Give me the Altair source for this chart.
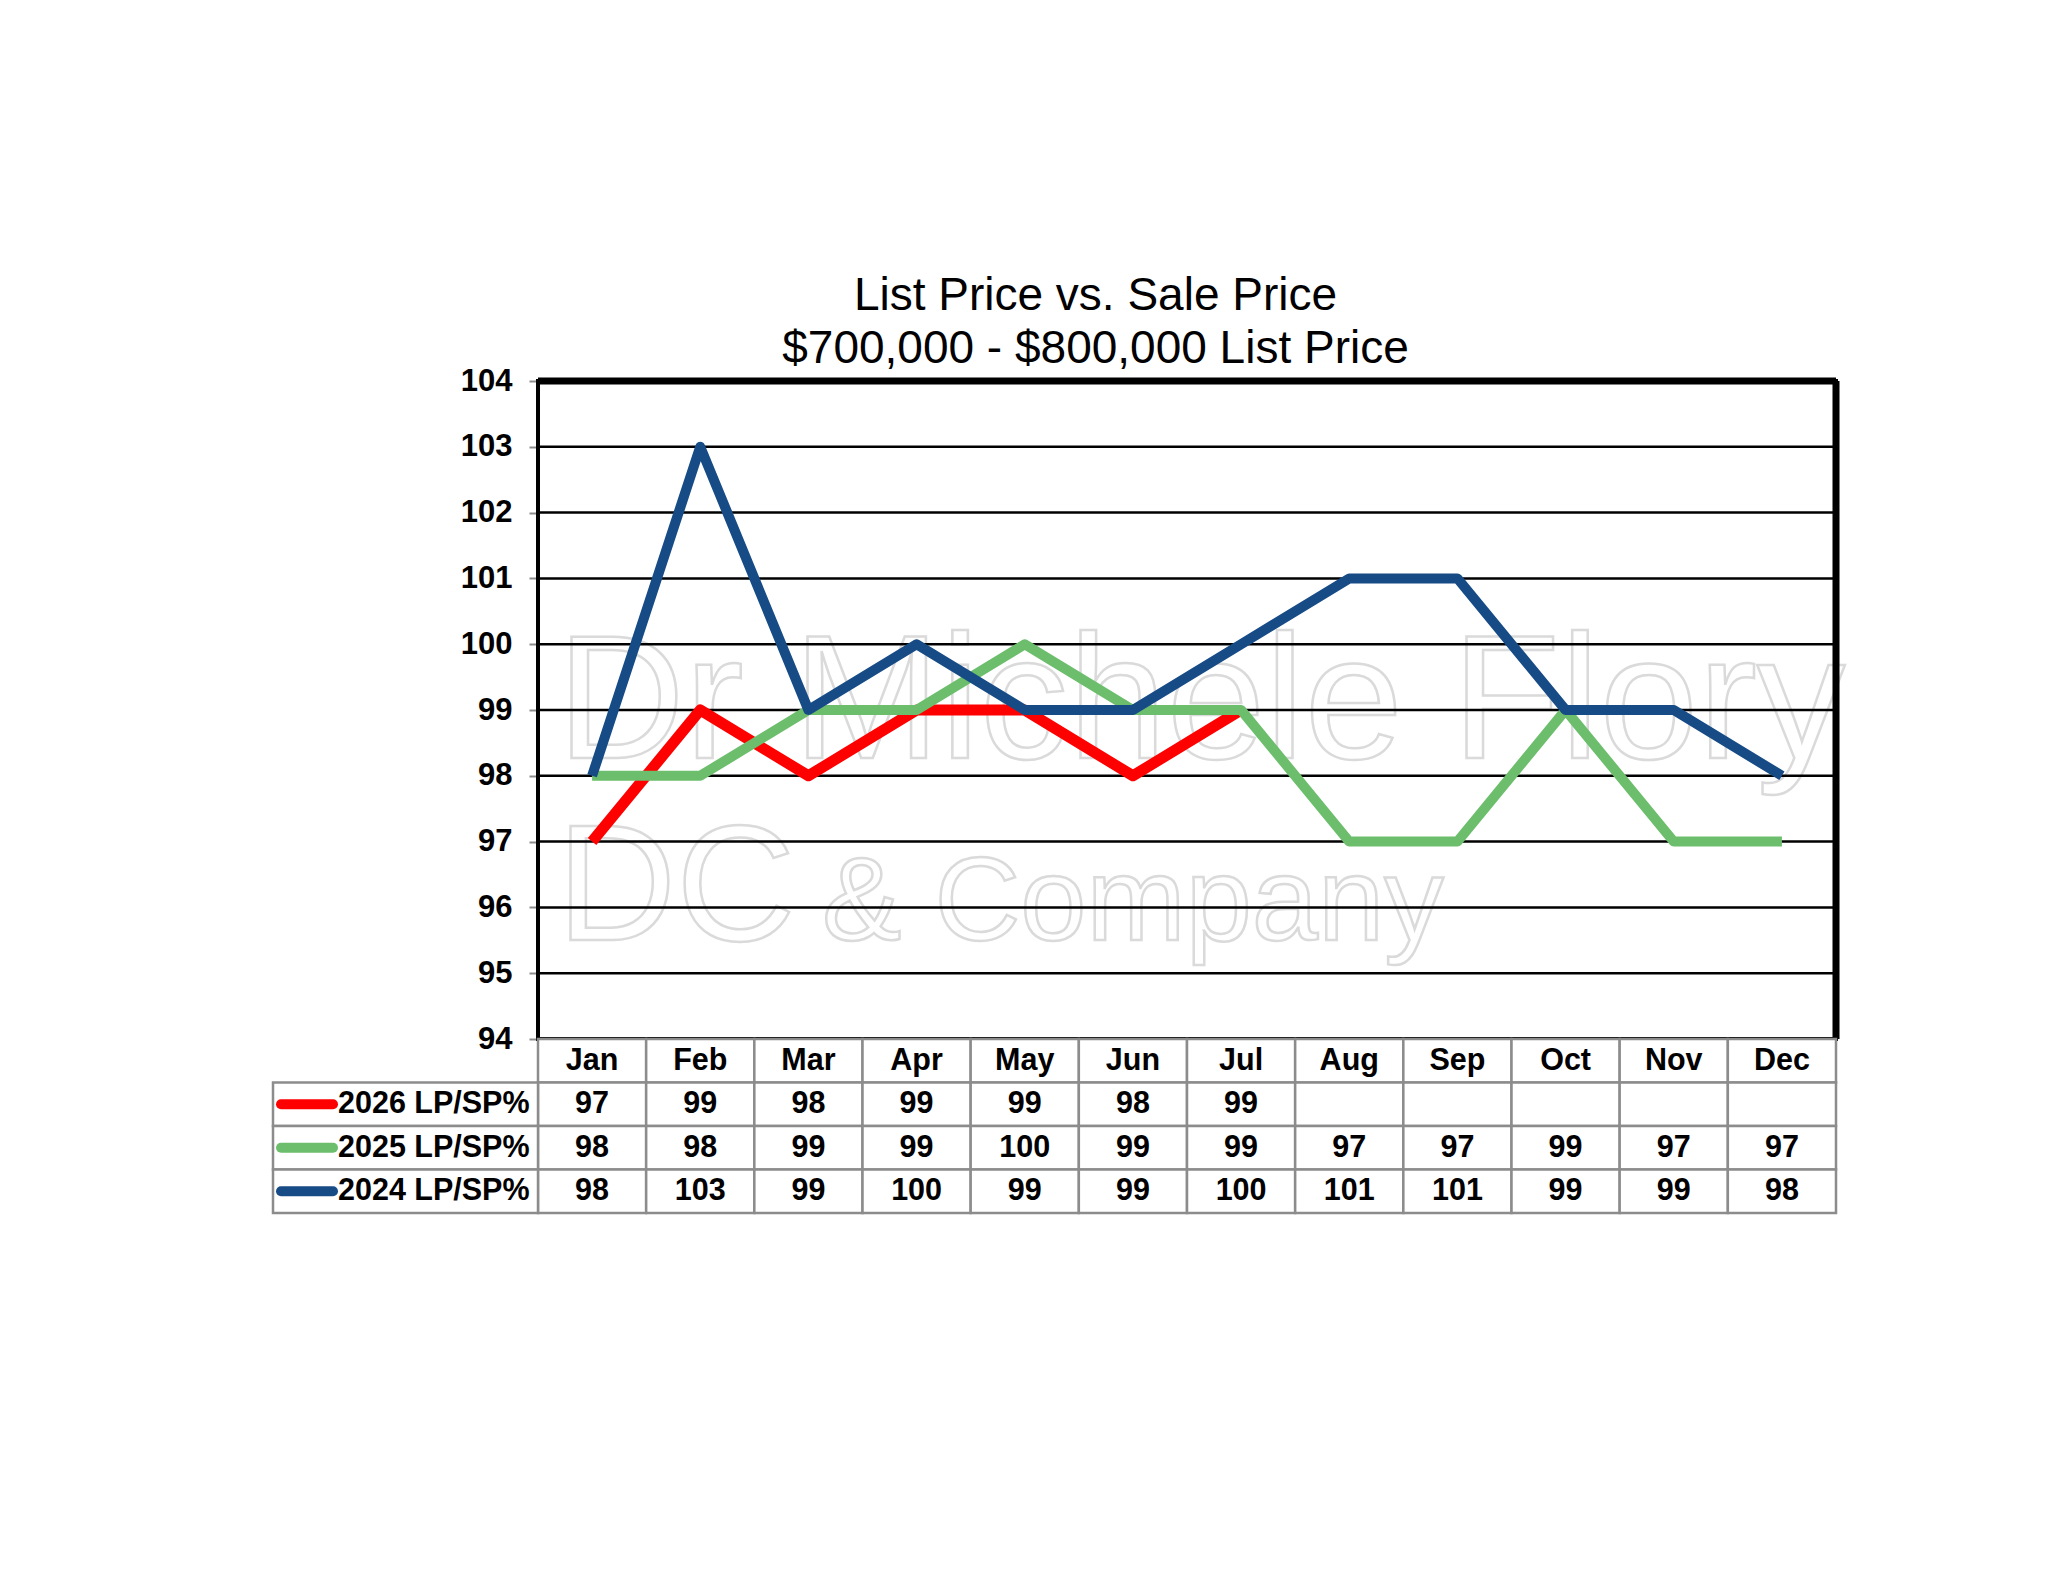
import altair as alt
import pandas as pd

TITLE = ["List Price vs. Sale Price", "$700,000 - $800,000 List Price"]
MONTHS = ["Jan", "Feb", "Mar", "Apr", "May", "Jun", "Jul", "Aug", "Sep", "Oct", "Nov", "Dec"]
SERIES = ["2026 LP/SP%", "2025 LP/SP%", "2024 LP/SP%"]
V2026 = [97, 99, 98, 99, 99, 98, 99]
V2025 = [98, 98, 99, 99, 100, 99, 99, 97, 97, 99, 97, 97]
V2024 = [98, 103, 99, 100, 99, 99, 100, 101, 101, 99, 99, 98]
Y_TICKS = [94, 95, 96, 97, 98, 99, 100, 101, 102, 103, 104]
COLORS = ["#FF0000", "#6CBE6C", "#174B86"]
WATERMARK = ["Dr Michele Flory", "DC", "& Company"]

VALUES = [V2026, V2025, V2024]
FONT = "Liberation Sans"

# layout (pixels)
PLOT_W = 1298
PLOT_H = 658
TABLE_H = 174
LABEL_PX = 265
COLW = PLOT_W / len(MONTHS)
LABEL_U = LABEL_PX / COLW
W = LABEL_PX + PLOT_W
H = PLOT_H + TABLE_H
NROWS = 1 + len(SERIES)

XS = alt.Scale(domain=[-LABEL_U, len(MONTHS)], range=[0, W], nice=False, zero=False)
YS = alt.Scale(domain=[Y_TICKS[0], Y_TICKS[-1]], range=[PLOT_H, 0], nice=False, zero=False)
TS = alt.Scale(domain=[0, NROWS], range=[PLOT_H, H], nice=False, zero=False)

y_axis = alt.Axis(values=Y_TICKS, offset=-(LABEL_PX - 1), labelFont=FONT, labelFontSize=31,
                  labelFontWeight="bold", labelColor="black", labelPadding=17,
                  tickColor="#8c8c8c", tickSize=8, tickWidth=2, domainColor="#8c8c8c",
                  domainWidth=2, grid=False, title=None, format="d", labelOverlap=False)

# watermark (decorative, faint outlined text)
wm_style = dict(font=FONT, fill="white", stroke="#dadada", strokeWidth=2.5, align="left",
                baseline="alphabetic")
wm1 = alt.Chart(pd.DataFrame({"t": [WATERMARK[0]]})).mark_text(fontSize=177, **wm_style).encode(
    text="t:N", x=alt.value(LABEL_PX + 19), y=alt.value(377))
wm2 = alt.Chart(pd.DataFrame({"t": [WATERMARK[1]]})).mark_text(fontSize=165, **wm_style).encode(
    text="t:N", x=alt.value(LABEL_PX + 19), y=alt.value(559))
wm3 = alt.Chart(pd.DataFrame({"t": [WATERMARK[2]]})).mark_text(fontSize=119, **wm_style).encode(
    text="t:N", x=alt.value(LABEL_PX + 284), y=alt.value(559))

# gridlines + y axis
grid_df = pd.DataFrame({"v": Y_TICKS[1:-1], "x0": 0, "x1": len(MONTHS)})
grid = alt.Chart(grid_df).mark_rule(color="black", strokeWidth=2.5).encode(
    x=alt.X("x0:Q", scale=XS, axis=None), x2="x1:Q",
    y=alt.Y("v:Q", scale=YS, axis=y_axis))

# lines
line_layers = []
for name, vals, color, sw in zip(SERIES, VALUES, COLORS, [11, 10, 10]):
    df = pd.DataFrame({"month": MONTHS[:len(vals)], "v": vals})
    df["x"] = [MONTHS.index(m) + 0.5 for m in df["month"]]
    line_layers.append(
        alt.Chart(df).mark_line(color=color, strokeWidth=sw, strokeJoin="round").encode(
            x=alt.X("x:Q", scale=XS, axis=None),
            y=alt.Y("v:Q", scale=YS, axis=None),
            order="x:Q"))

# plot border
border_df = pd.DataFrame({"x0": [0], "x1": [len(MONTHS)], "y0": [Y_TICKS[0]], "y1": [Y_TICKS[-1]]})
border = alt.Chart(border_df).mark_rect(fillOpacity=0, stroke="black", strokeWidth=4).encode(
    x=alt.X("x0:Q", scale=XS, axis=None), x2="x1:Q",
    y=alt.Y("y0:Q", scale=YS, axis=None), y2="y1:Q")
top_rule = alt.Chart(border_df).mark_rule(color="black", strokeWidth=7).encode(
    x=alt.X("x0:Q", scale=XS, axis=None), x2="x1:Q",
    y=alt.Y("y1:Q", scale=YS, axis=None))
right_rule = alt.Chart(border_df).mark_rule(color="black", strokeWidth=7).encode(
    x=alt.X("x1:Q", scale=XS, axis=None),
    y=alt.Y("y0:Q", scale=YS, axis=None), y2="y1:Q")

# table cells
cells = []
for r in range(NROWS):
    for i in range(len(MONTHS)):
        cells.append({"x0": i, "x1": i + 1, "r0": r, "r1": r + 1})
    if r > 0:
        cells.append({"x0": -LABEL_U, "x1": 0, "r0": r, "r1": r + 1})
cell_layer = alt.Chart(pd.DataFrame(cells)).mark_rect(fill="white", stroke="#8c8c8c", strokeWidth=2.5).encode(
    x=alt.X("x0:Q", scale=XS, axis=None), x2="x1:Q",
    y=alt.Y("r0:Q", scale=TS, axis=None), y2="r1:Q")

txt_style = dict(font=FONT, fontSize=30.5, fontWeight="bold", color="black", baseline="middle")

hdr_df = pd.DataFrame({"t": MONTHS, "x": [i + 0.5 for i in range(len(MONTHS))], "r": 0.5})
hdr = alt.Chart(hdr_df).mark_text(align="center", **txt_style).encode(
    x=alt.X("x:Q", scale=XS, axis=None), y=alt.Y("r:Q", scale=TS, axis=None), text="t:N")

num_rows = []
for k, vals in enumerate(VALUES):
    for i, v in enumerate(vals):
        num_rows.append({"t": str(v), "x": i + 0.5, "r": k + 1.5})
nums = alt.Chart(pd.DataFrame(num_rows)).mark_text(align="center", **txt_style).encode(
    x=alt.X("x:Q", scale=XS, axis=None), y=alt.Y("r:Q", scale=TS, axis=None), text="t:N")

leg_df = pd.DataFrame({"t": SERIES, "x": -LABEL_U, "r": [k + 1.5 for k in range(len(SERIES))],
                       "s0": -LABEL_U + 8 / COLW, "s1": -LABEL_U + 60 / COLW})
leg_txt = alt.Chart(leg_df).mark_text(align="left", dx=65, **txt_style).encode(
    x=alt.X("x:Q", scale=XS, axis=None), y=alt.Y("r:Q", scale=TS, axis=None), text="t:N")
swatch = alt.Chart(leg_df).mark_rule(strokeWidth=10, strokeCap="round").encode(
    x=alt.X("s0:Q", scale=XS, axis=None), x2="s1:Q",
    y=alt.Y("r:Q", scale=TS, axis=None),
    color=alt.Color("t:N", scale=alt.Scale(domain=SERIES, range=COLORS), legend=None))

chart = alt.layer(
    wm1, wm2, wm3, grid, *line_layers, border, top_rule, right_rule,
    cell_layer, hdr, nums, leg_txt, swatch
).resolve_scale(y="independent").properties(
    width=W, height=H,
    background="white",
    title=alt.TitleParams(text=TITLE, font=FONT, fontSize=46, fontWeight="normal", color="black",
                          lineHeight=53, anchor="middle", frame="group", dx=41, offset=-8),
    autosize=alt.AutoSizeParams(type="none"),
    padding={"left": 265, "top": 373, "right": 150, "bottom": 300},
).configure_view(strokeWidth=0, stroke="transparent")

chart.save("out.html", embed_options={"renderer": "svg", "actions": False})
